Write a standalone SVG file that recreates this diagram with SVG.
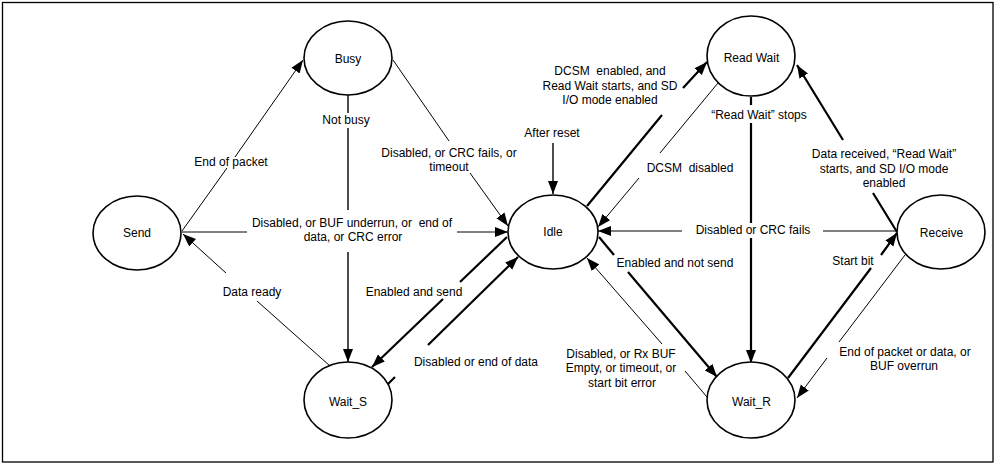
<svg xmlns="http://www.w3.org/2000/svg" width="999" height="466" viewBox="0 0 999 466">
<style>
.node ellipse{fill:#fff;stroke:#000;stroke-width:1.6}
.node text,.lbl{font-family:"Liberation Sans",Arial,sans-serif;font-size:12px;fill:#000;text-anchor:middle}
.c path{fill:none;stroke:#000}
.thin{stroke-width:1}
.med{stroke-width:1.4}
.thick{stroke-width:2.2}
</style>
<defs>
<marker id="ah" markerUnits="userSpaceOnUse" markerWidth="14" markerHeight="11" refX="13" refY="5" orient="auto" viewBox="0 0 14 10">
<path d="M0,0 L13,5 L0,10 z" fill="#000"/>
</marker>
</defs>
<rect x="2.5" y="2.5" width="990.5" height="459.5" fill="#fff" stroke="#000" stroke-width="1.3"/>
<g id="connectors" class="c">
<path class="thin" d="M182,231 L227,168 M235,157 L303,60" marker-end="url(#ah)"/>
<path class="med" d="M348,95 L348,113 M348,128 L348,210 M348,252 L348,362" marker-end="url(#ah)"/>
<path class="thin" d="M182,232 L247,232 M457,232 L508,232" marker-end="url(#ah)"/>
<path class="thin" d="M393,60 L449,141 M470,173 L508,226" marker-end="url(#ah)"/>
<path class="med" d="M553,143 L553,194" marker-end="url(#ah)"/>
<path class="thick" d="M587,206 L662,115 M683,88 L707,62" marker-end="url(#ah)"/>
<path class="thin" d="M718,83 L660,153 M639,178 L598,227" marker-end="url(#ah)"/>
<path class="thick" d="M751,97 L751,105 M751,123 L751,223 M751,238 L751,363" marker-end="url(#ah)"/>
<path class="thin" d="M897,231 L823,231 M682,231 L598,231" marker-end="url(#ah)"/>
<path class="thick" d="M897,232 L873,193 M843,140 L797,65" marker-end="url(#ah)"/>
<path class="thick" d="M599,237 L614,255 M628,272 L717,377" marker-end="url(#ah)"/>
<path class="thin" d="M707,397 L685,371 M662,344 L587,258" marker-end="url(#ah)"/>
<path class="thin" d="M330,366 L257,301 M226,273 L183,234" marker-end="url(#ah)"/>
<path class="thick" d="M507,237 L460,282 M443,299 L372,367" marker-end="url(#ah)"/>
<path class="thick" d="M388,384 L395,377 M428,345 L518,257" marker-end="url(#ah)"/>
<path class="thick" d="M788,378 L871,268 M881,255 L897,233" marker-end="url(#ah)"/>
<path class="thin" d="M905,255 L839,342 M827,358 L797,398" marker-end="url(#ah)"/>
</g>
<g id="labels">
<text class="lbl" x="231" y="166">End of packet</text>
<text class="lbl" x="346" y="124">Not busy</text>
<text class="lbl" x="352" y="227" xml:space="preserve">Disabled, or BUF underrun, or  end of</text>
<text class="lbl" x="353" y="241">data, or CRC error</text>
<text class="lbl" x="449" y="157">Disabled, or CRC fails, or</text>
<text class="lbl" x="449" y="171">timeout</text>
<text class="lbl" x="552" y="137">After reset</text>
<text class="lbl" x="610" y="75" xml:space="preserve">DCSM  enabled, and</text>
<text class="lbl" x="610" y="90">Read Wait starts, and SD</text>
<text class="lbl" x="610" y="104">I/O mode enabled</text>
<text class="lbl" x="690" y="172" xml:space="preserve">DCSM  disabled</text>
<text class="lbl" x="759" y="119">“Read Wait” stops</text>
<text class="lbl" x="884" y="158">Data received, “Read Wait”</text>
<text class="lbl" x="884" y="172.5">starts, and SD I/O mode</text>
<text class="lbl" x="884" y="187">enabled</text>
<text class="lbl" x="753" y="234">Disabled or CRC fails</text>
<text class="lbl" x="675" y="267">Enabled and not send</text>
<text class="lbl" x="853" y="265">Start bit</text>
<text class="lbl" x="621" y="358">Disabled, or Rx BUF</text>
<text class="lbl" x="621" y="372">Empty, or timeout, or</text>
<text class="lbl" x="622" y="387">start bit error</text>
<text class="lbl" x="905" y="356">End of packet or data, or</text>
<text class="lbl" x="904" y="370">BUF overrun</text>
<text class="lbl" x="252" y="296">Data ready</text>
<text class="lbl" x="414" y="296">Enabled and send</text>
<text class="lbl" x="476" y="366">Disabled or end of data</text>
</g>
<g id="busy" class="node"><ellipse cx="348" cy="58" rx="44" ry="37"/><text x="348" y="62.5">Busy</text></g>
<g id="send" class="node"><ellipse cx="137" cy="233" rx="44" ry="37"/><text x="137" y="237">Send</text></g>
<g id="idle" class="node"><ellipse cx="553" cy="232" rx="45" ry="37"/><text x="553" y="236">Idle</text></g>
<g id="read-wait" class="node"><ellipse cx="751" cy="56" rx="44" ry="40"/><text x="751.5" y="62">Read Wait</text></g>
<g id="receive" class="node"><ellipse cx="941" cy="232" rx="44" ry="37"/><text x="941.5" y="237">Receive</text></g>
<g id="wait-s" class="node"><ellipse cx="348" cy="400" rx="44" ry="38"/><text x="348" y="406">Wait_S</text></g>
<g id="wait-r" class="node"><ellipse cx="751" cy="400" rx="44" ry="38"/><text x="751.5" y="406">Wait_R</text></g>
</svg>
